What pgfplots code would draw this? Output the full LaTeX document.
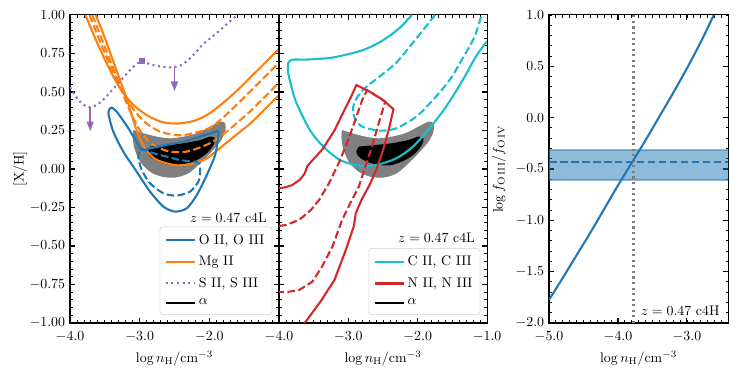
\documentclass[border=0pt]{standalone}
\usepackage{pgfplots}
\pgfplotsset{compat=1.18}
\usetikzlibrary{arrows.meta}

\definecolor{tabblue}{HTML}{1F77B4}
\definecolor{taborange}{HTML}{FF7F0E}
\definecolor{tabpurple}{HTML}{9467BD}
\definecolor{tabcyan}{HTML}{17BECF}
\definecolor{tabred}{HTML}{D62728}
\definecolor{tabgray}{HTML}{7F7F7F}

\pgfplotsset{
  mpl/.style={
    scale only axis, height=221.8pt,
    tick align=inside,
    major tick length=3.5pt, minor tick length=2pt,
    every major tick/.append style={line width=0.8pt, black},
    every minor tick/.append style={line width=0.6pt, black},
    axis line style={line width=0.8pt},
    xlabel={$\log n_{\mathrm{H}}/\mathrm{cm}^{-3}$},
    xticklabel style={yshift=-2.5pt, /pgf/number format/.cd, fixed, fixed zerofill, precision=1},
    legend cell align=left,
    legend image code/.code={\draw[#1] (0pt,0pt) -- (21pt,0pt);},
    legend style={at={(0.968,0.026)}, anchor=south east,
      draw=black!18, rounded corners=2pt, fill=white, fill opacity=0.8,
      text opacity=1, inner sep=3.5pt, row sep=3pt,
      /tikz/every even column/.append style={column sep=5pt}},
  },
  sol/.style={line width=1.5pt},
  das/.style={line width=1.5pt, dash pattern=on 5.5pt off 2.4pt},
}

\begin{document}
\begin{tikzpicture}
\useasboundingbox (0,0) rectangle (532.1pt,270pt);

% ---- left panel
\begin{axis}[mpl, at={(50.4pt,37.44pt)}, anchor=south west, width=150.5pt,
  xmin=-4, xmax=-1, ymin=-1, ymax=1,
  xtick={-4,-3,-2,-1}, xticklabels={$-4.0$,$-3.0$,$-2.0$,{}},
  minor xtick={-3.9,-3.8,...,-1.05},
  ytick={-1,-0.75,-0.5,-0.25,0,0.25,0.5,0.75,1},
  minor ytick={-0.95,-0.9,...,0.96},
  yticklabel style={/pgf/number format/.cd, fixed, fixed zerofill, precision=2},
  ylabel={[X/H]}, ylabel style={yshift=-5pt},
]
\addlegendimage{tabblue, sol}\addlegendentry{O II, O III}
\addlegendimage{taborange, sol}\addlegendentry{Mg II}
\addlegendimage{tabpurple, line width=1.5pt, dash pattern=on 1.5pt off 2.5pt}\addlegendentry{S II, S III}
\addlegendimage{black, sol}\addlegendentry{$\alpha$}

% alpha 2 sigma / 1 sigma
\addplot[fill=gray, draw=none, smooth, tension=0.5, forget plot] coordinates {
 (-3.09,0.253) (-2.947,0.232) (-2.755,0.21) (-2.563,0.199) (-2.372,0.21) (-2.18,0.232)
 (-1.989,0.275) (-1.845,0.307) (-1.773,0.297) (-1.773,0.242) (-1.845,0.177) (-1.989,0.102)
 (-2.132,0.037) (-2.30,-0.028) (-2.491,-0.056) (-2.682,-0.05) (-2.851,-0.018) (-2.994,0.047)
 (-3.076,0.134) (-3.1,0.21) (-3.09,0.253)} -- cycle;
\addplot[fill=black, draw=none, smooth, tension=0.5, forget plot] coordinates {
 (-2.851,0.145) (-2.61,0.156) (-2.372,0.167) (-2.132,0.188) (-1.989,0.21) (-1.917,0.199)
 (-1.94,0.156) (-2.036,0.102) (-2.18,0.058) (-2.372,0.026) (-2.563,0.026) (-2.731,0.047)
 (-2.851,0.08) (-2.884,0.112) (-2.851,0.145)} -- cycle;

% Mg II
\addplot[taborange, sol, smooth, forget plot] coordinates {
 (-3.78,1.00) (-3.64,0.85) (-3.51,0.72) (-3.39,0.61) (-3.26,0.51) (-3.10,0.42) (-2.90,0.35)
 (-2.68,0.305) (-2.45,0.295) (-2.20,0.315) (-2.00,0.36) (-1.80,0.43) (-1.60,0.51) (-1.40,0.60)
 (-1.20,0.69) (-1.00,0.78)};
\addplot[taborange, das, smooth, forget plot] coordinates {
 (-3.72,1.00) (-3.59,0.85) (-3.46,0.71) (-3.34,0.58) (-3.21,0.47) (-3.06,0.37) (-2.90,0.295)
 (-2.72,0.245) (-2.50,0.22) (-2.30,0.225) (-2.00,0.265) (-1.80,0.335) (-1.60,0.42)
 (-1.40,0.51) (-1.20,0.60) (-1.00,0.69)};
\addplot[taborange, das, smooth, forget plot] coordinates {
 (-3.68,1.00) (-3.55,0.85) (-3.42,0.70) (-3.30,0.56) (-3.19,0.43) (-3.08,0.32) (-2.96,0.225)
 (-2.82,0.16) (-2.65,0.123) (-2.50,0.11) (-2.30,0.115) (-2.00,0.165) (-1.80,0.225)
 (-1.60,0.30) (-1.40,0.38) (-1.20,0.47) (-1.00,0.56)};
\addplot[taborange, sol, smooth, forget plot] coordinates {
 (-3.63,1.00) (-3.50,0.85) (-3.38,0.70) (-3.26,0.55) (-3.16,0.42) (-3.08,0.30) (-3.00,0.20)
 (-2.90,0.12) (-2.76,0.06) (-2.50,0.025) (-2.30,0.03) (-2.10,0.055) (-2.00,0.08)
 (-1.70,0.19) (-1.40,0.30) (-1.20,0.39) (-1.00,0.48)};

% O II, O III
\addplot[tabblue, sol, smooth, tension=0.45, forget plot] coordinates {
 (-3.425,0.394) (-3.45,0.362) (-3.378,0.242) (-3.234,0.112) (-3.042,-0.018) (-2.851,-0.147)
 (-2.659,-0.245) (-2.491,-0.277) (-2.323,-0.255) (-2.18,-0.169) (-2.036,-0.039) (-1.917,0.091)
 (-1.869,0.221) (-1.883,0.247) (-1.94,0.238) (-2.132,0.21) (-2.372,0.177) (-2.61,0.156)
 (-2.851,0.134) (-2.97,0.123) (-3.019,0.156) (-3.162,0.264) (-3.329,0.372) (-3.401,0.398)
 (-3.425,0.394)};
\addplot[tabblue, das, smooth, tension=0.45, forget plot] coordinates {
 (-2.994,0.134) (-2.803,0.102) (-2.61,0.08) (-2.42,0.058) (-2.228,0.047) (-2.142,0.037)
 (-2.132,-0.018) (-2.157,-0.082) (-2.276,-0.147) (-2.467,-0.173) (-2.659,-0.158)
 (-2.851,-0.093) (-2.97,-0.006) (-3.019,0.069) (-3.004,0.112) (-2.994,0.134)};

% S II, S III upper limit
\addplot[tabpurple, line width=1.5pt, dash pattern=on 1.5pt off 2.5pt, smooth, forget plot] coordinates {
 (-4.0,0.53) (-3.9,0.46) (-3.8,0.415) (-3.71,0.40) (-3.6,0.42) (-3.5,0.46) (-3.4,0.51)
 (-3.3,0.56) (-3.2,0.61) (-3.1,0.66) (-2.97,0.70) (-2.85,0.68) (-2.7,0.665) (-2.56,0.66)
 (-2.4,0.675) (-2.25,0.73) (-2.09,0.81) (-1.9,0.88) (-1.75,0.94) (-1.6,1.0)};
\addplot[tabpurple, only marks, mark=square*, mark size=1.8pt, forget plot] coordinates {(-2.97,0.70)};
\addplot[tabpurple, line width=1.2pt, -{Triangle[length=7pt,width=5pt]},
  quiver={u=0,v=-0.155}, forget plot] coordinates {(-3.71,0.40) (-2.50,0.66)};

\node[anchor=base east] at (rel axis cs:0.965,0.325) {$z = 0.47$ c4L};
\end{axis}

% ---- middle panel
\begin{axis}[mpl, at={(200.9pt,37.44pt)}, anchor=south west, width=149.8pt,
  xmin=-4, xmax=-1, ymin=-1, ymax=1,
  xtick={-4,-3,-2,-1},
  minor xtick={-3.9,-3.8,...,-1.05},
  ytick={-1,-0.75,-0.5,-0.25,0,0.25,0.5,0.75,1},
  minor ytick={-0.95,-0.9,...,0.96},
  yticklabels=\empty,
]
\addlegendimage{tabcyan, sol}\addlegendentry{C II, C III}
\addlegendimage{tabred, sol}\addlegendentry{N II, N III}
\addlegendimage{black, sol}\addlegendentry{$\alpha$}

\addplot[fill=gray, draw=none, smooth, tension=0.5, forget plot] coordinates {
 (-3.09,0.253) (-2.947,0.232) (-2.755,0.21) (-2.563,0.199) (-2.372,0.21) (-2.18,0.232)
 (-1.989,0.275) (-1.845,0.307) (-1.773,0.297) (-1.773,0.242) (-1.845,0.177) (-1.989,0.102)
 (-2.132,0.037) (-2.30,-0.028) (-2.491,-0.056) (-2.682,-0.05) (-2.851,-0.018) (-2.994,0.047)
 (-3.076,0.134) (-3.1,0.21) (-3.09,0.253)} -- cycle;
\addplot[fill=black, draw=none, smooth, tension=0.5, forget plot] coordinates {
 (-2.851,0.145) (-2.61,0.156) (-2.372,0.167) (-2.132,0.188) (-1.989,0.21) (-1.917,0.199)
 (-1.94,0.156) (-2.036,0.102) (-2.18,0.058) (-2.372,0.026) (-2.563,0.026) (-2.731,0.047)
 (-2.851,0.08) (-2.884,0.112) (-2.851,0.145)} -- cycle;

% C II, C III
\addplot[tabcyan, sol, smooth, forget plot] coordinates {
 (-2.085,1.0) (-2.25,0.92) (-2.42,0.86) (-2.60,0.81) (-2.80,0.77) (-3.05,0.74) (-3.28,0.72)
 (-3.62,0.71) (-3.80,0.71) (-3.865,0.69) (-3.87,0.63) (-3.83,0.55) (-3.75,0.43) (-3.555,0.253)
 (-3.36,0.145) (-3.12,0.058) (-2.836,0.021) (-2.597,0.026) (-2.31,0.069) (-2.07,0.145)
 (-1.83,0.264) (-1.59,0.405) (-1.35,0.578) (-1.16,0.73) (-1.0,0.83)};
\addplot[tabcyan, das, smooth, forget plot] coordinates {
 (-1.75,1.0) (-2.05,0.83) (-2.31,0.69) (-2.55,0.60) (-2.75,0.53) (-2.88,0.46) (-2.93,0.40)
 (-2.91,0.33) (-2.80,0.275) (-2.55,0.249) (-2.31,0.264) (-2.02,0.34) (-1.78,0.448)
 (-1.54,0.578) (-1.365,0.708) (-1.18,0.86) (-1.08,1.0)};

% N II, N III
\addplot[tabred, sol, forget plot] coordinates {
 (-4.0,-0.125) (-3.92,-0.12) (-3.81,-0.105) (-3.70,-0.07) (-3.63,-0.03) (-3.59,0.02)
 (-3.52,0.055) (-3.37,0.13) (-3.2,0.25) (-3.06,0.38) (-2.97,0.46) (-2.884,0.545)
 (-2.693,0.502) (-2.50,0.448) (-2.35,0.388) (-2.42,0.25) (-2.50,0.123) (-2.597,-0.006)
 (-2.69,-0.10) (-2.81,-0.20) (-2.894,-0.288) (-2.92,-0.37) (-3.04,-0.53) (-3.2,-0.72)
 (-3.4,-0.86) (-3.63,-1.0) (-3.7,-1.05)};
\addplot[tabred, das, forget plot] coordinates {
 (-4.0,-0.37) (-3.90,-0.364) (-3.71,-0.331) (-3.54,-0.266) (-3.42,-0.20) (-3.28,-0.093)
 (-3.14,0.037) (-3.02,0.167) (-2.90,0.318) (-2.80,0.448) (-2.73,0.512) (-2.60,0.476)
 (-2.47,0.437) (-2.52,0.36) (-2.56,0.30) (-2.66,0.145) (-2.755,0.015) (-2.85,-0.115)
 (-2.97,-0.22) (-3.09,-0.331) (-3.23,-0.505) (-3.38,-0.634) (-3.52,-0.732) (-3.71,-0.786)
 (-3.90,-0.80) (-4.0,-0.80)};

\node[anchor=base east] at (rel axis cs:0.965,0.26) {$z = 0.47$ c4L};
\end{axis}

% ---- right panel
\begin{axis}[mpl, at={(395.3pt,37.44pt)}, anchor=south west, width=129.1pt,
  xmin=-5, xmax=-2.4, ymin=-2, ymax=1,
  xtick={-5,-4,-3},
  minor xtick={-4.9,-4.8,...,-2.45},
  ytick={-2,-1.5,-1,-0.5,0,0.5,1},
  minor ytick={-1.9,-1.8,...,0.95},
  yticklabel style={/pgf/number format/.cd, fixed, fixed zerofill, precision=1},
  ylabel={$\log f_{\mathrm{O\,III}}/f_{\mathrm{O\,IV}}$},
]
\addplot[fill=tabblue, fill opacity=0.5, draw=tabblue, draw opacity=0.5, line width=0.8pt]
 coordinates {(-5,-0.315) (-2.4,-0.315) (-2.4,-0.607) (-5,-0.607)} -- cycle;
\addplot[tabblue, das] coordinates {(-5,-0.434) (-2.4,-0.434)};
\addplot[tabgray, line width=1.5pt, dash pattern=on 1.5pt off 2.5pt] coordinates {(-3.775,-2) (-3.775,1)};
\addplot[tabblue, sol, smooth] coordinates {
 (-5.0,-1.775) (-4.8,-1.56) (-4.6,-1.34) (-4.4,-1.12) (-4.2,-0.89) (-4.0,-0.66) (-3.8,-0.44)
 (-3.6,-0.22) (-3.4,0.01) (-3.2,0.24) (-3.0,0.48) (-2.8,0.735) (-2.61,1.0)};
\node[anchor=base east] at (rel axis cs:0.978,0.023) {$z = 0.47$ c4H};
\end{axis}
\end{tikzpicture}
\end{document}
